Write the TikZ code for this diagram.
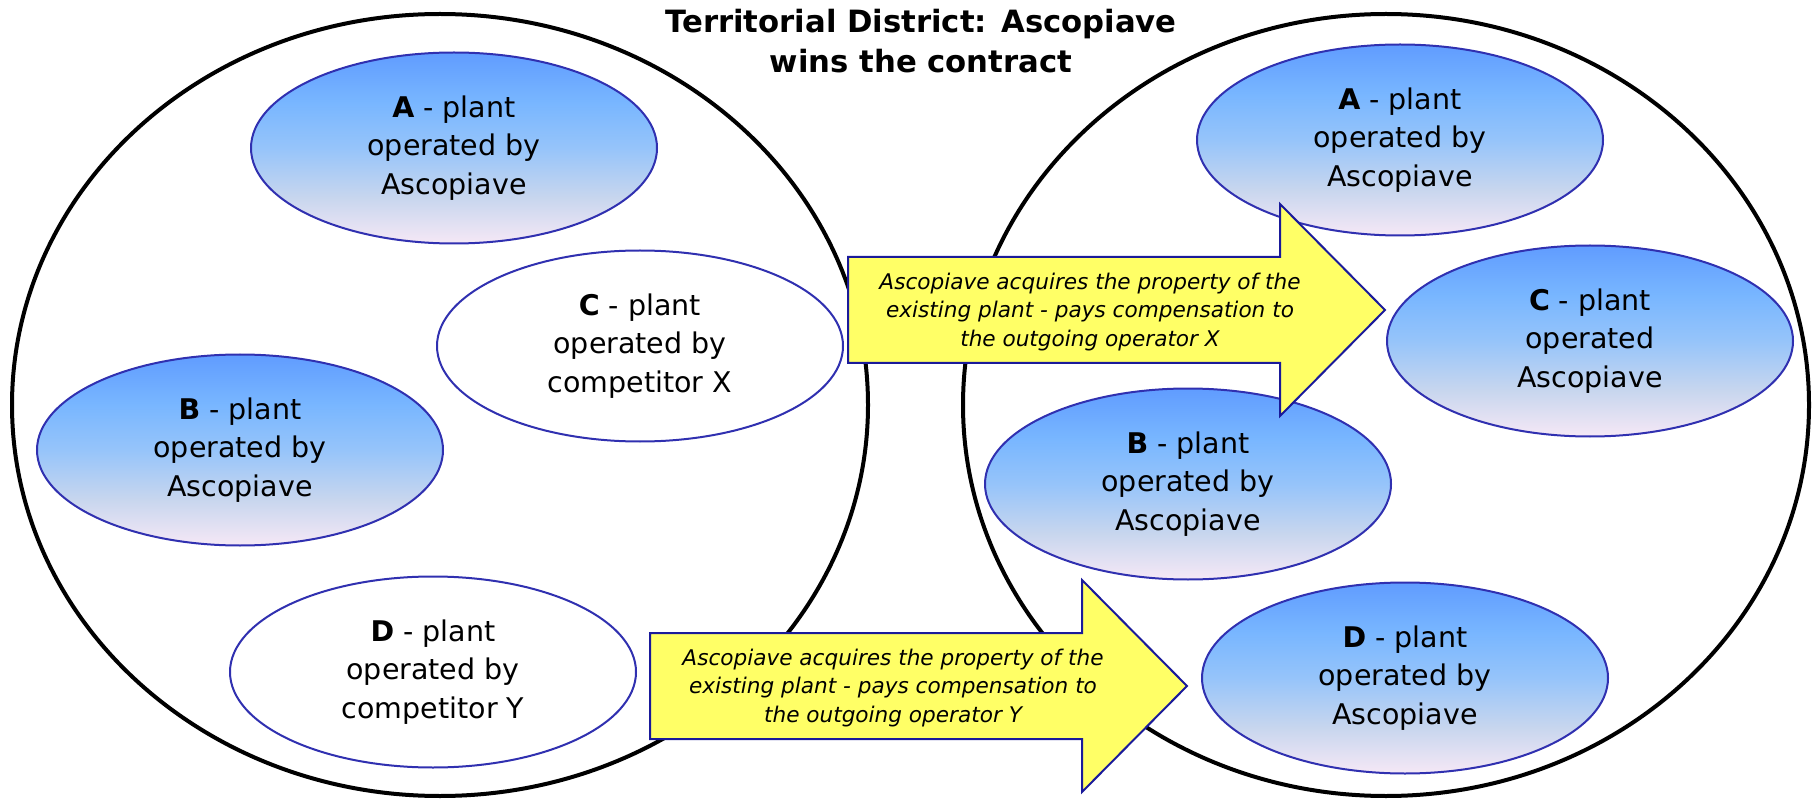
\documentclass[tikz,border=0pt]{standalone}
\usepackage{fontspec}
\setmainfont{DejaVu Sans}
\usetikzlibrary{shapes.geometric}
\definecolor{ptop}{RGB}{96,156,255}
\definecolor{pup}{RGB}{120,182,255}
\definecolor{pmid}{RGB}{150,196,250}
\definecolor{plow}{RGB}{200,214,238}
\definecolor{pbot}{RGB}{246,232,246}
\definecolor{pborder}{RGB}{48,48,176}
\definecolor{ayellow}{RGB}{255,255,102}
\definecolor{aborder}{RGB}{26,26,154}
\pgfdeclareverticalshading{plantshade}{100bp}{color(0bp)=(pbot); color(25bp)=(pbot); color(37bp)=(plow); color(50bp)=(pmid); color(62bp)=(pup); color(75bp)=(ptop); color(100bp)=(ptop)}
\tikzset{
  district/.style={ellipse, draw=black, line width=4pt, inner sep=0pt},
  plantbase/.style={ellipse, draw=pborder, line width=2pt, minimum width=406pt, minimum height=191pt, align=center, inner sep=0pt, font=\fontsize{28.5}{38.5}\selectfont, execute at begin node={\vspace*{6pt}}},
  plantblue/.style={plantbase, shade, shading=plantshade},
  plantwhite/.style={plantbase, fill=white},
  blockarrow/.style={fill=ayellow, draw=aborder, line width=2pt, line join=miter},
  arrowtext/.style={align=center, inner sep=0pt, font=\fontsize{21.6}{28.3}\selectfont\itshape},
  titletext/.style={align=center, inner sep=0pt, font=\fontsize{30.7}{40.5}\selectfont\bfseries}
}
\begin{document}
\begin{tikzpicture}[x=1pt,y=-1pt]
\useasboundingbox (0,0) rectangle (1812,799);
% districts
\node[district, minimum width=856pt, minimum height=782pt] (left) at (440,405) {};
\node[district, minimum width=846pt, minimum height=782pt] (right) at (1386,405) {};
% title
\node[titletext] (title) at (921,41) {Territorial District: Ascopiave\\wins the contract};
% left plants
\node[plantblue] (A1) at (454,148) {\textbf{A} - plant\\operated by\\Ascopiave};
\node[plantwhite] (C1) at (640,346) {\textbf{C} - plant\\operated by\\competitor X};
\node[plantblue] (B1) at (240,450) {\textbf{B} - plant\\operated by\\Ascopiave};
\node[plantwhite] (D1) at (433,672) {\textbf{D} - plant\\operated by\\competitor Y};
% right plants
\node[plantblue] (A2) at (1400,140) {\textbf{A} - plant\\operated by\\Ascopiave};
\node[plantblue] (C2) at (1590,341) {\textbf{C} - plant\\operated\\Ascopiave};
\node[plantblue] (B2) at (1188,484) {\textbf{B} - plant\\operated by\\Ascopiave};
\node[plantblue] (D2) at (1405,678) {\textbf{D} - plant\\operated by\\Ascopiave};
% arrows
\draw[blockarrow] (848,257) -- (1280,257) -- (1280,204) -- (1385,310) -- (1280,416) -- (1280,363) -- (848,363) -- cycle;
\node[arrowtext] (T1) at (1090,312) {Ascopiave acquires the property of the\\existing plant - pays compensation to\\the outgoing operator X};
\draw[blockarrow] (650,633) -- (1082,633) -- (1082,580) -- (1187,686) -- (1082,792) -- (1082,739) -- (650,739) -- cycle;
\node[arrowtext] (T2) at (893,688) {Ascopiave acquires the property of the\\existing plant - pays compensation to\\the outgoing operator Y};
\end{tikzpicture}
\end{document}
